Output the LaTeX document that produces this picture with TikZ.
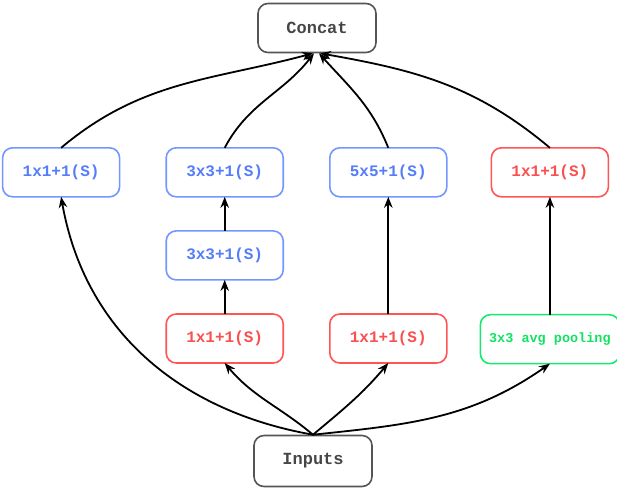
\documentclass[tikz,border=0pt]{standalone}
\usepackage{fontspec}
\setmonofont{Liberation Mono}
\usetikzlibrary{matrix}
\usetikzlibrary{arrows.meta}

\definecolor{convline}{RGB}{115,150,255}
\definecolor{convtext}{RGB}{85,125,250}
\definecolor{reduceline}{RGB}{255,85,85}
\definecolor{reducetext}{RGB}{250,80,80}
\definecolor{poolline}{RGB}{20,235,110}
\definecolor{pooltext}{RGB}{20,225,100}
\definecolor{ioline}{RGB}{85,85,85}
\definecolor{iotext}{RGB}{70,70,70}

\tikzset{
  box/.style={draw, rounded corners=10pt, line width=1.6pt, inner sep=2pt,
    minimum width=117pt, minimum height=49pt,
    font=\ttfamily\bfseries\fontsize{16}{19}\selectfont},
  conv/.style={box, draw=convline, text=convtext},
  reduce/.style={box, draw=reduceline, text=reducetext},
  pool/.style={box, draw=poolline, text=pooltext, minimum width=139pt,
    font=\ttfamily\bfseries\fontsize{13.5}{16}\selectfont},
  io/.style={box, draw=ioline, text=iotext, minimum width=118pt,
    font=\ttfamily\bfseries\fontsize{17}{20}\selectfont}
}

\begin{document}
\begin{tikzpicture}[x=1pt,y=1pt]
  \useasboundingbox (0,0) rectangle (617,-491);
  \matrix (m) [matrix of nodes,row sep=32.5pt,column sep=32pt,inner sep=0pt,outer sep=0pt] at (311,-255.75)
  {
     |[conv]| 1x1+1(S) &[13pt] |[conv]| 3x3+1(S) &[13pt] |[conv]| 5x5+1(S) & |[reduce]| 1x1+1(S) \\
     & |[conv]| 3x3+1(S) & & \\
     & |[reduce]| 1x1+1(S) & |[reduce]| 1x1+1(S) & |[pool]| 3x3 avg pooling \\};
  \node[io] (concat) at (317,-28) {Concat};
  \node[io, minimum height=51pt] (inputs) at (313,-461) {Inputs};
  \path[-{Stealth[length=11pt,width=8.5pt]}, line width=1.8pt]
    (m-3-2) edge (m-2-2)
    (m-2-2) edge (m-1-2)
    (m-3-3) edge (m-1-3)
    (m-3-4) edge (m-1-4)
    (inputs.north) edge [out=170, in=-80] (m-1-1.south)
    (inputs.north) edge [out=140, in=-50] (m-3-2.south)
    (inputs.north) edge [out=40, in=-130] (m-3-3.south)
    (inputs.north) edge [out=6, in=-145] (m-3-4.south)
    (m-1-1.north) edge [out=40, in=195] ([xshift=-4pt]concat.south)
    (m-1-2.north) edge [out=62, in=232] ([xshift=-3pt]concat.south)
    (m-1-3.north) edge [out=112, in=-48] ([xshift=2pt]concat.south)
    (m-1-4.north) edge [out=140, in=-10] ([xshift=3pt]concat.south);
\end{tikzpicture}
\end{document}
